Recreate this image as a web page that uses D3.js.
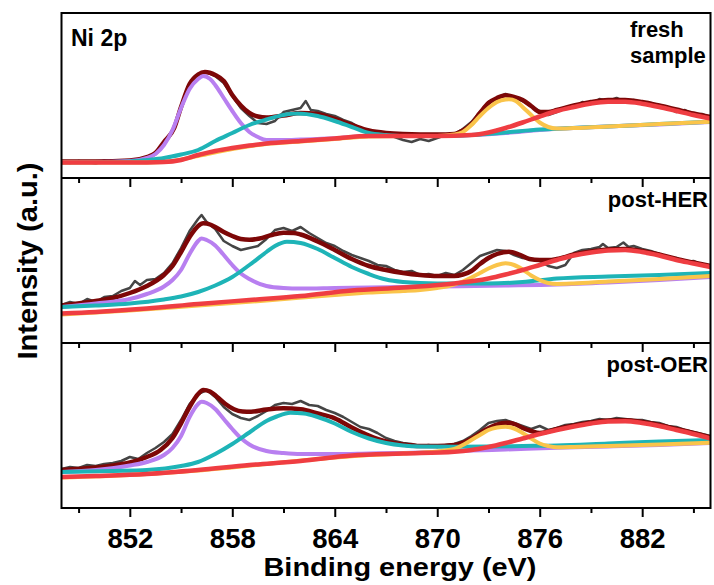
<!DOCTYPE html>
<html>
<head>
<meta charset="utf-8">
<script src="https://cdn.jsdelivr.net/npm/d3@7"></script>
<style>
  body { margin: 0; background: #fff; }
  text { font-family: "Liberation Sans", Arial, sans-serif; font-weight: bold; fill: #000; }
</style>
</head>
<body>
<div class="chart"></div>
<script>
// binding energy ticks (eV)
const majorTicks = [852, 858, 864, 870, 876, 882];
const minorTicks = [849, 855, 861, 867, 873, 879, 885];

// ---- fresh sample: [binding energy, intensity a.u.] ----
const freshRaw = [[848,16.5],[848.5,15],[849,17],[849.5,16],[850,14.5],[850.5,17.5],[851,16],[851.5,17],[852,15.5],[852.5,18.5],[853,20],[853.5,24],[854,33],[854.5,47],[855,70],[855.5,93],[856,104],[856.5,106],[857,102],[857.5,95],[858,82],[858.5,70],[859,62],[859.5,55],[860,54],[860.5,57],[861,66],[861.5,68],[862,70],[862.3,77],[862.6,68],[863,67],[863.5,64],[864,62],[864.5,58],[865,55],[865.5,50],[866,47],[866.5,46],[867,44],[867.5,41],[868,38],[868.5,36],[869,39],[869.5,37],[870,40],[870.5,43],[871,44],[871.5,49],[872,56],[872.5,66],[873,76],[873.5,80],[874,84],[874.5,81],[875,77],[875.5,72],[876,67],[876.5,63],[877,66],[877.5,70],[878,71],[878.5,76],[879,74],[879.5,79],[880,77],[880.5,80],[881,76],[881.5,78],[882,74],[882.5,75],[883,71],[883.5,70],[884,66],[884.5,68],[885,63],[885.5,64],[886,60]];
const freshEnvelope = [[848,16.5],[850,16.5],[852,17.5],[853,21],[853.5,25],[854,36],[854.6,50],[855,71],[855.5,94],[856,103.5],[856.4,106],[857,103],[857.5,97],[858,83],[858.5,72.5],[859,65],[859.5,61.5],[860,60.5],[861,62.5],[862,65],[863,64],[864,59],[865,53],[866,47.5],[867,45],[868,44],[870,43.5],[871,44],[871.5,47.5],[872,54],[872.5,65],[873,75],[873.5,80],[874,82.7],[874.5,81],[875,78],[875.5,72],[876,66],[876.5,66],[877,68],[878,72.5],[879,76],[880,78],[881,78],[882,76],[883,72.5],[884,68.5],[885,64.5],[886,61]];
const freshPurple = [[848,16],[850,16],[852,17],[853,20],[853.5,24],[854,33],[854.5,48],[855,70],[855.5,89],[856,99],[856.3,102],[856.7,99],[857,93],[857.5,80],[858,67],[858.5,55],[859,46],[859.5,41],[860,38],[861,38],[862,38.5],[864,39.8],[866,42],[868,42],[870,42],[872,43],[874,45],[876,48],[878,50],[880,51.5],[883,53.5],[886,56]];
const freshCyan = [[848,15.5],[850,15.8],[852,16.5],[853,18],[854,20],[855,23.5],[856,28],[857,37],[858,45],[859,53],[860,58.5],[861,63],[861.8,64.5],[863,62],[864,57],[865,51],[866,45],[867,43],[868,42],[870,42],[872,43],[874,45.5],[876,48.5],[877,49.3],[880,51.5],[883,54],[886,56.3]];
const freshYellow = [[848,15.5],[852,15.5],[854,16],[856,22],[858,29],[860,34],[862,36.5],[864,39],[866,41.5],[868,42],[870,42],[871,43.5],[871.5,46],[872,53],[872.5,62],[873,70],[873.5,76],[874,78.5],[874.2,78.7],[874.6,77],[875,71],[875.5,63],[876,55.5],[876.5,51],[877,49.5],[878,50],[880,51.5],[883,54],[886,56.3]];
const freshRed = [[848,15.5],[850,15.5],[852,15.5],[854,16],[855,18],[856,23],[857,27],[858,30],[859,32.5],[860,34.5],[862,37],[864,39.5],[866,42],[868,42],[870,42],[872,43],[873,45.5],[874,50],[875,55.5],[876,61.5],[877,67],[878,71],[879,74.5],[880,76.2],[881,76.2],[882,74.3],[883,71],[884,67],[885,63],[886,59.5]];

// ---- post-HER ----
const herRaw = [[848,38],[848.5,41],[849,39],[849.5,44],[850,41],[850.5,46],[851,47],[851.5,52],[852,55],[852.3,62],[852.6,58],[853,63],[853.5,64],[854,70],[854.5,80],[855,95],[855.5,112],[856,124],[856.2,128],[856.5,121],[857,114],[857.5,102],[858,97],[858.5,93],[859,95],[859.5,97],[860,104],[860.5,113],[861,115],[861.5,112],[862,116],[862.5,110],[863,105],[863.5,100],[864,97],[864.5,92],[865,88],[865.5,85],[866,82],[866.5,78],[867,77],[867.5,73],[868,71],[868.5,72],[869,68],[869.5,69],[870,67],[870.5,70],[871,68],[871.5,73],[872,80],[872.5,87],[873,90],[873.5,93],[874,92],[874.5,88],[875,85],[875.5,84],[876,82],[876.5,77],[877,75],[877.5,78],[878,90],[878.5,93],[879,94],[879.5,96],[879.7,99],[880,95],[880.5,96],[880.9,100.5],[881.2,96],[881.5,97],[882,94],[882.5,92],[883,89],[883.5,86],[884,85],[884.5,81],[885,82],[885.5,78],[886,76]];
const herEnvelope = [[848,37.5],[850,42],[851,45],[852,50],[853,57],[854,68],[854.5,77],[855,91],[855.5,106],[856,117],[856.3,119.7],[856.7,118.5],[857,116],[857.5,111],[858,107],[858.5,104],[859,103.3],[859.6,104.5],[860.3,108],[861,110.3],[861.6,110],[862,108.5],[863,101.5],[864,93],[865,84],[866,77],[867,73],[868,70],[869,68],[870,67],[871,67],[871.5,68.5],[872,72],[872.5,79],[873,85],[873.5,89],[874.2,91.3],[874.8,88.5],[875.4,84],[876,83],[876.5,83],[877,84],[878,88.5],[879,91.5],[880,93.5],[881,94],[882,92],[883,88.5],[884,84],[885,80.5],[886,77]];
const herPurple = [[848,36],[850,39.5],[852,44],[853,49],[854,56.5],[854.5,63],[855,73],[855.5,89],[856,102],[856.2,104.5],[856.5,103],[857,97.5],[857.5,88],[858,78],[858.5,69.5],[859,64],[860,57],[861,55],[862,54.5],[864,55],[866,55.5],[870,56.5],[874,57.5],[877,58.5],[880,60.5],[883,63],[886,66]];
const herCyan = [[848,36],[850,37.5],[852,39.5],[854,43.5],[855,46.5],[856,51],[857,57.5],[858,66],[859,78],[860,91],[860.5,97],[861.2,101.3],[862,100],[863,94],[864,85],[865,76],[866,69],[867,63.5],[868,61],[869,60],[871,59.5],[873,59.5],[875,61],[877,64.5],[880,66.5],[883,68],[886,70]];
const herYellow = [[848,28.5],[852,32.5],[856,37.5],[860,42.5],[864,48],[866,50.5],[868,52],[869,53],[870,55],[871,58.5],[871.5,61.5],[872,65.5],[872.5,70],[873,74.5],[873.5,78],[874,79.7],[874.5,78],[875,73.5],[875.5,67.5],[876,63],[876.5,60],[877,59],[878,59.5],[880,61.5],[883,64],[886,67]];
const herRed = [[848,29.5],[850,31],[853,34.5],[856,39],[859,43],[862,47],[865,52.5],[868,55.5],[871,59.5],[873,64.5],[874,68.5],[875,73],[876,78],[877,83],[878,87.5],[879,90.5],[880,92.5],[881,93],[882,91],[883,87.5],[884,83],[885,79.5],[886,76]];

// ---- post-OER ----
const oerRaw = [[848,39],[848.5,41],[849,40],[849.5,43],[850,42],[850.5,44],[851,45],[851.5,47],[852,51],[852.5,49],[853,55],[853.5,60],[854,66],[854.5,74],[855,88],[855.5,104],[856,114],[856.5,118],[857,111],[857.5,101],[858,94],[858.5,90],[859,88],[859.5,92],[860,97],[860.5,103],[861,105],[861.5,104],[862,107],[862.5,103],[863,102],[863.5,98],[864,95],[864.5,91],[865,86],[865.5,81],[866,79],[866.5,75],[867,70],[867.5,67],[868,65],[868.5,64],[869,62],[869.5,63],[870,61],[870.5,63],[871,64],[871.5,67],[872,72],[872.5,78],[873,85],[873.5,87],[874,88],[874.5,85],[875,82],[875.5,79],[876,82],[876.5,78],[877,80],[877.5,83],[878,84],[878.5,86],[879,87],[879.5,89],[880,88],[880.5,90],[881,89],[881.5,88],[882,88],[882.5,86],[883,85],[883.5,82],[884,81],[884.5,78],[885,76],[885.5,74],[886,72]];
const oerEnvelope = [[848,38],[850,40.5],[851,42.5],[852,45.5],[853,51],[853.8,58],[854.5,70],[855,84.7],[855.5,101],[856,114],[856.3,118],[856.7,116.5],[857.1,111.3],[857.6,104],[858.1,98.7],[858.6,96.5],[859.1,96.3],[860,98.5],[861,99.7],[862,98.7],[863,94.5],[864,89.7],[865,80.5],[865.5,76.3],[866,72.5],[867,66.5],[868,63.5],[869,62],[870,62],[871,63],[871.6,66],[872.2,71.3],[872.8,78],[873.4,83],[874.1,85.3],[874.6,83.5],[875,80],[875.5,77],[876,75],[876.5,76.5],[877,79],[878,82.5],[879,85.5],[880,87.5],[881,87.8],[882,86],[883,83],[884,79],[885,75],[886,70.5]];
const oerPurple = [[848,36],[850,38],[852,42.5],[853,46],[854,53],[854.5,60],[855,72],[855.5,91],[856,104],[856.2,106.3],[856.5,105],[857,99],[857.5,89],[858,79],[858.5,70],[859,63.5],[860,57],[861,55],[862,54],[864,54],[866,54.5],[868,55],[870,56],[872,57.5],[874,58.5],[877,60.2],[880,61.5],[883,63],[886,65]];
const oerCyan = [[848,36],[851,37],[853,38],[855,42],[856,46],[857,54],[858,64],[859,75.5],[860,87],[860.6,91.5],[861.4,95.3],[862.2,94.5],[863,91],[864,84.5],[865,76],[866,69.5],[867,65],[868,62.5],[869,61.5],[871,61.3],[873,61.5],[875,62],[877,62.5],[880,64.5],[883,66.5],[886,68]];
const oerYellow = [[848,30.5],[852,33],[856,37.5],[860,44],[864,50.5],[866,53],[868,54.5],[870,56.5],[871,59],[871.5,63],[872,68],[872.5,73],[873,78],[873.5,80.5],[874,81.3],[874.5,79.5],[875,75],[875.5,69.5],[876,64.5],[876.5,62],[877,60.7],[878,61],[880,62],[883,63.5],[886,65.3]];
const oerRed = [[848,31],[850,32],[853,34],[856,38],[859,43],[862,47],[865,52.5],[868,54.5],[871,56.3],[872,58],[873,61],[874,65],[875,69.5],[876,74],[877,78],[878,81.5],[879,84.5],[880,86.5],[881,86.8],[882,85],[883,82],[884,78],[885,74],[886,69.5]];

const panelLabels = [["fresh", "sample"], ["post-HER"], ["post-OER"]];

const panels = [
  { label: panelLabels[0], raw: freshRaw, env: freshEnvelope, comps: [freshPurple, freshCyan, freshYellow, freshRed] },
  { label: panelLabels[1], raw: herRaw, env: herEnvelope, comps: [herPurple, herCyan, herYellow, herRed] },
  { label: panelLabels[2], raw: oerRaw, env: oerEnvelope, comps: [oerPurple, oerCyan, oerYellow, oerRed] }
];
const compColors = ["#b87ff0", "#1eb4b7", "#fac44a", "#ef3d42"];

const W = 714, H = 585;
const plotLeft = 61.5, plotRight = 710.5, plotTop = 13, plotBottom = 508;
const panelH = (plotBottom - plotTop) / 3;

const svg = d3.select(".chart").append("svg")
  .attr("width", W)
  .attr("height", H);

const x = d3.scaleLinear().domain([848, 886]).range([plotLeft, plotRight]);

panels.forEach((p, i) => {
  const pTop = plotTop + i * panelH;
  const y = d3.scaleLinear().domain([0, 165]).range([pTop + panelH, pTop]);

  svg.append("clipPath").attr("id", "clip" + i)
    .append("rect")
    .attr("x", plotLeft).attr("y", pTop)
    .attr("width", plotRight - plotLeft).attr("height", panelH);

  const g = svg.append("g").attr("clip-path", "url(#clip" + i + ")");

  const smooth = d3.line().x(d => x(d[0])).y(d => y(d[1])).curve(d3.curveMonotoneX);
  const rough = d3.line().x(d => x(d[0])).y(d => y(d[1]));

  g.append("path").datum(p.raw)
    .attr("d", rough)
    .attr("fill", "none").attr("stroke", "#454545").attr("stroke-width", 2.5)
    .attr("stroke-linejoin", "round");

  g.append("path").datum(p.env)
    .attr("d", smooth)
    .attr("fill", "none").attr("stroke", "#7d0707").attr("stroke-width", 4.5);

  p.comps.forEach((c, k) => {
    g.append("path").datum(c)
      .attr("d", smooth)
      .attr("fill", "none").attr("stroke", compColors[k])
      .attr("stroke-width", k == 3 ? 4.5 : 4);
  });

  // inward ticks on top edge of lower panels
  if (i > 0) {
    svg.append("g")
      .attr("transform", "translate(0," + pTop + ")")
      .call(d3.axisBottom(x).tickValues(majorTicks).tickSize(9).tickFormat(""))
      .call(a => a.select(".domain").remove())
      .call(a => a.selectAll("line").attr("stroke-width", 2));
    svg.append("g")
      .attr("transform", "translate(0," + pTop + ")")
      .call(d3.axisBottom(x).tickValues(minorTicks).tickSize(5).tickFormat(""))
      .call(a => a.select(".domain").remove())
      .call(a => a.selectAll("line").attr("stroke-width", 2));
  }

  // sample labels
  if (i == 0) {
    svg.append("text").attr("x", 71).attr("y", pTop + 33)
      .style("font-size", "23px").text("Ni 2p");
    p.label.forEach((t, j) => {
      svg.append("text").attr("x", 630).attr("y", pTop + 24 + j * 26)
        .style("font-size", "22px").text(t);
    });
  } else {
    svg.append("text").attr("x", 708).attr("y", pTop + 29)
      .attr("text-anchor", "end")
      .style("font-size", "22px").text(p.label[0]);
  }
});

// frame and panel separators
svg.append("rect")
  .attr("x", plotLeft).attr("y", plotTop)
  .attr("width", plotRight - plotLeft).attr("height", plotBottom - plotTop)
  .attr("fill", "none").attr("stroke", "#000").attr("stroke-width", 2);
[1, 2].forEach(k => {
  svg.append("line")
    .attr("x1", plotLeft).attr("x2", plotRight)
    .attr("y1", plotTop + k * panelH).attr("y2", plotTop + k * panelH)
    .attr("stroke", "#000").attr("stroke-width", 2);
});

// bottom axis
const xAxis = svg.append("g")
  .attr("transform", "translate(0," + plotBottom + ")")
  .call(d3.axisBottom(x).tickValues(majorTicks).tickSize(9).tickPadding(11).tickFormat(d3.format("d")));
xAxis.select(".domain").remove();
xAxis.selectAll("line").attr("stroke-width", 2);
xAxis.selectAll("text").style("font-size", "27.5px").style("font-family", "'Liberation Sans', Arial, sans-serif").style("font-weight", "bold");

svg.append("g")
  .attr("transform", "translate(0," + plotBottom + ")")
  .call(d3.axisBottom(x).tickValues(minorTicks).tickSize(5).tickFormat(""))
  .call(a => a.select(".domain").remove())
  .call(a => a.selectAll("line").attr("stroke-width", 2));

// axis titles
svg.append("text")
  .attr("x", 400).attr("y", 576)
  .attr("text-anchor", "middle")
  .attr("textLength", 273).attr("lengthAdjust", "spacingAndGlyphs")
  .style("font-size", "25px")
  .text("Binding energy (eV)");

svg.append("text")
  .attr("transform", "translate(37,261) rotate(-90)")
  .attr("text-anchor", "middle")
  .attr("textLength", 197).attr("lengthAdjust", "spacingAndGlyphs")
  .style("font-size", "28px")
  .text("Intensity (a.u.)");
</script>
</body>
</html>
